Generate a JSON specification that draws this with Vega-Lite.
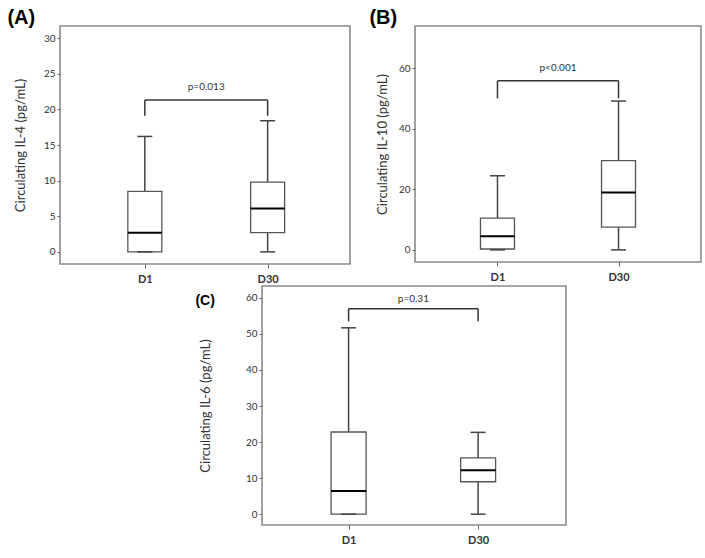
{
  "$schema": "https://vega.github.io/schema/vega-lite/v6.json",
  "background": "white",
  "padding": {"left": 6, "top": 7, "right": 0, "bottom": 0},
  "config": {
    "font": "Lato",
    "view": {"stroke": "#8a8a8a", "strokeWidth": 1.6},
    "axis": {"grid": false, "domain": false, "tickColor": "#666", "tickSize": 3, "labelColor": "#333", "titleColor": "#333", "labelFont": "Lato", "titleFont": "Lato", "labelFontSize": 10, "titleFontSize": 13, "titleFontWeight": "normal", "labelOverlap": false, "labelFlush": false},
    "title": {"font": "Liberation Sans", "fontWeight": "bold", "anchor": "start", "frame": "bounds", "color": "black"}
  },
  "vconcat": [
    {
      "hconcat": [
        {
          "width": 290, "height": 238,
          "title": {"text": "(A)", "fontSize": 20, "offset": 2, "dx": -7, "dy": 4},
          "data": {"values": [
            {"day": 1, "min": 0, "q1": 0, "median": 2.7, "q3": 8.5, "max": 16.2},
            {"day": 2, "min": 0, "q1": 2.7, "median": 6.1, "q3": 9.8, "max": 18.4}
          ]},
          "layer": [
            {"mark": {"type": "rule", "color": "#444", "strokeWidth": 1.5},
             "encoding": {
               "x": {"field": "day", "type": "quantitative", "scale": {"domain": [0.35, 2.63], "nice": false, "zero": false},
                     "axis": {"values": [1, 2], "tickCount": 20, "labelExpr": "datum.value == 1 ? 'D1' : 'D30'", "title": null, "labelFontWeight": "bold", "labelFontSize": 11, "tickSize": 4, "labelPadding": 5, "labelOverlap": false}},
               "y": {"field": "min", "type": "quantitative", "scale": {"domain": [-1.7, 31.7], "nice": false, "zero": false},
                     "axis": {"values": [0, 5, 10, 15, 20, 25, 30], "tickCount": 20, "title": "Circulating IL-4 (pg/mL)", "titlePadding": 16, "labelOverlap": false}},
               "y2": {"field": "max"}}},
            {"mark": {"type": "bar", "orient": "vertical", "size": 34, "fill": "white", "stroke": "#555", "strokeWidth": 1.3},
             "encoding": {"x": {"field": "day", "type": "quantitative"}, "y": {"field": "q1", "type": "quantitative"}, "y2": {"field": "q3"}}},
            {"mark": {"type": "tick", "orient": "horizontal", "size": 34, "thickness": 2, "color": "black", "opacity": 1},
             "encoding": {"x": {"field": "day", "type": "quantitative"}, "y": {"field": "median", "type": "quantitative"}}},
            {"mark": {"type": "tick", "orient": "horizontal", "size": 15, "thickness": 1.5, "color": "#444", "opacity": 1},
             "encoding": {"x": {"field": "day", "type": "quantitative"}, "y": {"field": "max", "type": "quantitative"}}},
            {"mark": {"type": "tick", "orient": "horizontal", "size": 15, "thickness": 1.5, "color": "#444", "opacity": 1},
             "encoding": {"x": {"field": "day", "type": "quantitative"}, "y": {"field": "min", "type": "quantitative"}}},
            {"data": {"values": [{"a": 1, "b": 2, "mid": 1.5, "low": 19.1, "top": 21.3, "ty": 23.1, "p": "p=0.013"}]},
             "layer": [
               {"mark": {"type": "rule", "color": "#333", "strokeWidth": 1.5},
                "encoding": {"x": {"field": "a", "type": "quantitative"}, "y": {"field": "low", "type": "quantitative"}, "y2": {"field": "top"}}},
               {"mark": {"type": "rule", "color": "#333", "strokeWidth": 1.5},
                "encoding": {"x": {"field": "b", "type": "quantitative"}, "y": {"field": "low", "type": "quantitative"}, "y2": {"field": "top"}}},
               {"mark": {"type": "rule", "color": "#333", "strokeWidth": 1.5},
                "encoding": {"x": {"field": "a", "type": "quantitative"}, "x2": {"field": "b"}, "y": {"field": "top", "type": "quantitative"}}},
               {"mark": {"type": "text", "fontSize": 10, "color": "#333", "baseline": "middle"},
                "encoding": {"x": {"field": "mid", "type": "quantitative"}, "y": {"field": "ty", "type": "quantitative"}, "text": {"field": "p"}}}
             ]}
          ]
        },
        {
          "width": 286, "height": 236,
          "title": {"text": "(B)", "fontSize": 20, "offset": 2, "dx": -7, "dy": 4},
          "data": {"values": [
            {"day": 1, "min": 0, "q1": 0.3, "median": 4.5, "q3": 10.5, "max": 24.5},
            {"day": 2, "min": 0, "q1": 7.5, "median": 19, "q3": 29.5, "max": 49.2}
          ]},
          "layer": [
            {"mark": {"type": "rule", "color": "#444", "strokeWidth": 1.5},
             "encoding": {
               "x": {"field": "day", "type": "quantitative", "scale": {"domain": [0.36, 2.64], "nice": false, "zero": false},
                     "axis": {"values": [1, 2], "tickCount": 20, "labelExpr": "datum.value == 1 ? 'D1' : 'D30'", "title": null, "labelFontWeight": "bold", "labelFontSize": 11, "tickSize": 4, "labelPadding": 5, "labelOverlap": false}},
               "y": {"field": "min", "type": "quantitative", "scale": {"domain": [-4, 74], "nice": false, "zero": false},
                     "axis": {"values": [0, 20, 40, 60], "tickCount": 20, "title": "Circulating IL-10 (pg/mL)", "titlePadding": 9, "labelOverlap": false}},
               "y2": {"field": "max"}}},
            {"mark": {"type": "bar", "orient": "vertical", "size": 34, "fill": "white", "stroke": "#555", "strokeWidth": 1.3},
             "encoding": {"x": {"field": "day", "type": "quantitative"}, "y": {"field": "q1", "type": "quantitative"}, "y2": {"field": "q3"}}},
            {"mark": {"type": "tick", "orient": "horizontal", "size": 34, "thickness": 2, "color": "black", "opacity": 1},
             "encoding": {"x": {"field": "day", "type": "quantitative"}, "y": {"field": "median", "type": "quantitative"}}},
            {"mark": {"type": "tick", "orient": "horizontal", "size": 15, "thickness": 1.5, "color": "#444", "opacity": 1},
             "encoding": {"x": {"field": "day", "type": "quantitative"}, "y": {"field": "max", "type": "quantitative"}}},
            {"mark": {"type": "tick", "orient": "horizontal", "size": 15, "thickness": 1.5, "color": "#444", "opacity": 1},
             "encoding": {"x": {"field": "day", "type": "quantitative"}, "y": {"field": "min", "type": "quantitative"}}},
            {"data": {"values": [{"a": 1, "b": 2, "mid": 1.5, "low": 50.1, "top": 55.9, "ty": 60.1, "p": "p<0.001"}]},
             "layer": [
               {"mark": {"type": "rule", "color": "#333", "strokeWidth": 1.5},
                "encoding": {"x": {"field": "a", "type": "quantitative"}, "y": {"field": "low", "type": "quantitative"}, "y2": {"field": "top"}}},
               {"mark": {"type": "rule", "color": "#333", "strokeWidth": 1.5},
                "encoding": {"x": {"field": "b", "type": "quantitative"}, "y": {"field": "low", "type": "quantitative"}, "y2": {"field": "top"}}},
               {"mark": {"type": "rule", "color": "#333", "strokeWidth": 1.5},
                "encoding": {"x": {"field": "a", "type": "quantitative"}, "x2": {"field": "b"}, "y": {"field": "top", "type": "quantitative"}}},
               {"mark": {"type": "text", "fontSize": 10, "color": "#333", "baseline": "middle"},
                "encoding": {"x": {"field": "mid", "type": "quantitative"}, "y": {"field": "ty", "type": "quantitative"}, "text": {"field": "p"}}}
             ]}
          ]
        }
      ],
      "spacing": 17
    },
    {
      "hconcat": [
        {"width": 124, "height": 10, "view": {"stroke": null}, "data": {"values": []}, "mark": "point", "encoding": {}},
        {
          "width": 304, "height": 239,
          "title": {"text": "(C)", "fontSize": 14, "offset": 0, "dy": 22, "dx": -4},
          "data": {"values": [
            {"day": 1, "min": 0, "q1": 0, "median": 6.4, "q3": 22.8, "max": 51.7},
            {"day": 2, "min": 0, "q1": 9, "median": 12.2, "q3": 15.6, "max": 22.7}
          ]},
          "layer": [
            {"mark": {"type": "rule", "color": "#444", "strokeWidth": 1.5},
             "encoding": {
               "x": {"field": "day", "type": "quantitative", "scale": {"domain": [0.37, 2.64], "nice": false, "zero": false},
                     "axis": {"values": [1, 2], "tickCount": 20, "labelExpr": "datum.value == 1 ? 'D1' : 'D30'", "title": null, "labelFontWeight": "bold", "labelFontSize": 11, "tickSize": 4, "labelPadding": 5, "labelOverlap": false}},
               "y": {"field": "min", "type": "quantitative", "scale": {"domain": [-3, 63.3], "nice": false, "zero": false},
                     "axis": {"values": [0, 10, 20, 30, 40, 50, 60], "tickCount": 20, "title": "Circulating IL-6 (pg/mL)", "titlePadding": 33, "labelOverlap": false}},
               "y2": {"field": "max"}}},
            {"mark": {"type": "bar", "orient": "vertical", "size": 35, "fill": "white", "stroke": "#555", "strokeWidth": 1.3},
             "encoding": {"x": {"field": "day", "type": "quantitative"}, "y": {"field": "q1", "type": "quantitative"}, "y2": {"field": "q3"}}},
            {"mark": {"type": "tick", "orient": "horizontal", "size": 35, "thickness": 2, "color": "black", "opacity": 1},
             "encoding": {"x": {"field": "day", "type": "quantitative"}, "y": {"field": "median", "type": "quantitative"}}},
            {"mark": {"type": "tick", "orient": "horizontal", "size": 15, "thickness": 1.5, "color": "#444", "opacity": 1},
             "encoding": {"x": {"field": "day", "type": "quantitative"}, "y": {"field": "max", "type": "quantitative"}}},
            {"mark": {"type": "tick", "orient": "horizontal", "size": 15, "thickness": 1.5, "color": "#444", "opacity": 1},
             "encoding": {"x": {"field": "day", "type": "quantitative"}, "y": {"field": "min", "type": "quantitative"}}},
            {"data": {"values": [{"a": 1, "b": 2, "mid": 1.5, "low": 53.5, "top": 57.0, "ty": 59.8, "p": "p=0.31"}]},
             "layer": [
               {"mark": {"type": "rule", "color": "#333", "strokeWidth": 1.5},
                "encoding": {"x": {"field": "a", "type": "quantitative"}, "y": {"field": "low", "type": "quantitative"}, "y2": {"field": "top"}}},
               {"mark": {"type": "rule", "color": "#333", "strokeWidth": 1.5},
                "encoding": {"x": {"field": "b", "type": "quantitative"}, "y": {"field": "low", "type": "quantitative"}, "y2": {"field": "top"}}},
               {"mark": {"type": "rule", "color": "#333", "strokeWidth": 1.5},
                "encoding": {"x": {"field": "a", "type": "quantitative"}, "x2": {"field": "b"}, "y": {"field": "top", "type": "quantitative"}}},
               {"mark": {"type": "text", "fontSize": 10, "color": "#333", "baseline": "middle"},
                "encoding": {"x": {"field": "mid", "type": "quantitative"}, "y": {"field": "ty", "type": "quantitative"}, "text": {"field": "p"}}}
             ]}
          ]
        }
      ],
      "spacing": 10
    }
  ],
  "spacing": 0
}
